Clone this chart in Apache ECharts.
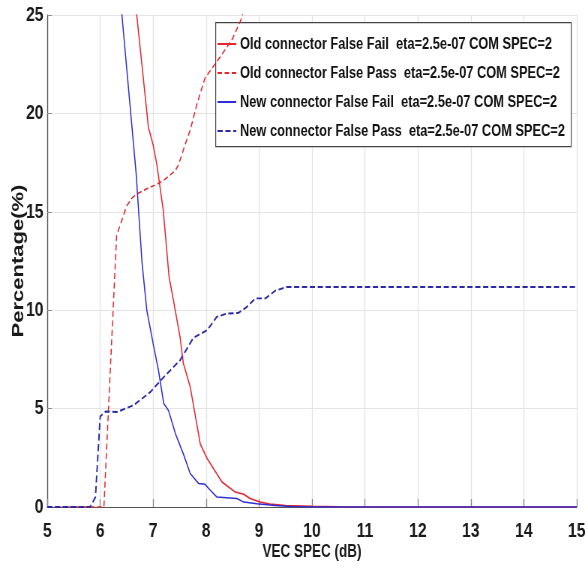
<!DOCTYPE html>
<html>
<head>
<meta charset="utf-8">
<script src="https://cdn.jsdelivr.net/npm/echarts@6/dist/echarts.min.js"></script>
<style>
  html, body { margin: 0; padding: 0; background: #fff; overflow: hidden; }
  /* The figure is laid out on a wider canvas and squeezed horizontally,
     giving the tall, narrow lettering of the exported plot. */
  #chart {
    width: 784px;
    height: 576px;
    transform: scaleX(0.75);
    transform-origin: 0 0;
  }
</style>
</head>
<body>
<div id="chart"></div>
<script>
// Axis ranges and ticks
const xTicks = [5, 6, 7, 8, 9, 10, 11, 12, 13, 14, 15];
const yTicks = [0, 5, 10, 15, 20, 25];

// Series names (legend)
const seriesNames = [
  'Old connector False Fail  eta=2.5e-07 COM SPEC=2',
  'Old connector False Pass  eta=2.5e-07 COM SPEC=2',
  'New connector False Fail  eta=2.5e-07 COM SPEC=2',
  'New connector False Pass  eta=2.5e-07 COM SPEC=2'
];

// Old connector, false fail (%)
const oldFailX = [6.3, 6.69, 6.91, 7.0, 7.07, 7.19, 7.30, 7.39, 7.51, 7.57, 7.70, 7.89, 8.02, 8.30, 8.55, 8.71, 8.83, 9.02, 9.2, 9.5, 10.0, 10.5, 11.0, 15];
const oldFailY = [35, 25, 19.3, 18.4, 17.4, 15.1, 11.7, 10.4, 8.6, 7.3, 6.1, 3.2, 2.46, 1.27, 0.76, 0.65, 0.43, 0.25, 0.15, 0.08, 0.04, 0.01, 0, 0];

// Old connector, false pass (%)
const oldPassX = [5, 6.07, 6.2, 6.31, 6.4, 6.5, 6.6, 6.69, 6.9, 7.07, 7.2, 7.42, 7.48, 7.64, 7.7, 7.83, 7.98, 8.14, 8.3, 8.5, 8.65, 8.8, 9.0, 15];
const oldPassY = [0, 0, 7.5, 13.8, 14.5, 15.3, 15.7, 15.9, 16.2, 16.4, 16.6, 17.1, 17.4, 18.7, 19.15, 20.5, 21.8, 22.4, 23.0, 23.8, 24.7, 26, 27, 28];

// New connector, false fail (%)
const newFailX = [6.2, 6.41, 6.68, 6.79, 6.88, 7.0, 7.1, 7.2, 7.29, 7.42, 7.57, 7.7, 7.86, 7.98, 8.08, 8.2, 8.58, 8.71, 8.96, 9.3, 9.6, 10.0, 15];
const newFailY = [31.5, 25, 16.9, 12.4, 10.0, 8.3, 6.95, 5.26, 4.9, 3.73, 2.7, 1.7, 1.19, 1.15, 0.85, 0.51, 0.43, 0.25, 0.17, 0.08, 0.02, 0, 0];

// New connector, false pass (%)
const newPassX = [5, 5.81, 5.91, 6.0, 6.1, 6.32, 6.63, 6.95, 7.2, 7.51, 7.76, 8.02, 8.2, 8.39, 8.61, 8.77, 8.93, 9.12, 9.31, 9.53, 15];
const newPassY = [0, 0, 0.5, 4.6, 4.85, 4.83, 5.17, 5.85, 6.6, 7.46, 8.6, 8.98, 9.66, 9.83, 9.86, 10.17, 10.6, 10.6, 11.0, 11.18, 11.18];

const zip = (xs, ys) => xs.map((x, i) => [x, ys[i]]);

const RED = '#e2262d';
const BLUE = '#2e2ed4';
const NAVY = '#2a2aa8';
const FONT = '"Liberation Sans", Arial, Helvetica, sans-serif';

function lineSeries(name, data, color, type, width) {
  return {
    name: name,
    type: 'line',
    data: data,
    symbol: 'none',
    clip: true,
    animation: false,
    lineStyle: { color: color, width: width, type: type },
    itemStyle: { color: color }
  };
}

const chart = echarts.init(document.getElementById('chart'), null, { renderer: 'canvas' });
chart.setOption({
  animation: false,
  backgroundColor: '#ffffff',
  grid: { left: 63, top: 15, right: 15, bottom: 69, containLabel: false, outerBoundsMode: 'none' },
  // white framed box behind the legend entries
  graphic: [{
    type: 'rect',
    left: 287,
    top: 22,
    z: 3,
    silent: true,
    shape: { width: 474, height: 124 },
    style: { fill: '#ffffff', stroke: '#444444', lineWidth: 1.2 }
  }],
  xAxis: {
    type: 'value',
    min: xTicks[0],
    max: xTicks[xTicks.length - 1],
    interval: 1,
    name: 'VEC SPEC (dB)',
    nameLocation: 'middle',
    nameGap: 36,
    nameMoveOverlap: false,
    nameTextStyle: { fontFamily: FONT, fontSize: 18, fontWeight: 'bold', color: '#1a1a1a' },
    axisLine: { show: true, onZero: false, lineStyle: { color: '#555', width: 1 } },
    axisTick: { show: true, inside: true, length: 8, lineStyle: { color: '#8a8a8a', width: 1.33 } },
    axisLabel: { fontFamily: FONT, fontSize: 21, fontWeight: 'bold', color: '#1a1a1a', margin: 14 },
    splitLine: { show: true, lineStyle: { color: '#e4e4e4', width: 1.33 } }
  },
  yAxis: {
    type: 'value',
    min: yTicks[0],
    max: yTicks[yTicks.length - 1],
    interval: 5,
    name: 'Percentage(%)',
    nameLocation: 'middle',
    nameGap: 27,
    nameRotate: 90,
    nameMoveOverlap: false,
    nameTextStyle: { fontFamily: FONT, fontSize: 22, fontWeight: 'bold', color: '#1a1a1a' },
    axisLine: { show: true, lineStyle: { color: '#555', width: 1.33 } },
    axisTick: { show: true, inside: true, length: 6, lineStyle: { color: '#8a8a8a', width: 1 } },
    axisLabel: { fontFamily: FONT, fontSize: 21, fontWeight: 'bold', color: '#1a1a1a', margin: 5 },
    splitLine: { show: true, lineStyle: { color: '#e4e4e4', width: 1 } }
  },
  legend: {
    orient: 'vertical',
    left: 287,
    top: 22,
    z: 4,
    data: seriesNames,
    backgroundColor: 'transparent',
    borderWidth: 0,
    padding: [12, 4, 4, 2],
    itemGap: 9,
    itemWidth: 25,
    itemHeight: 12,
    itemStyle: { opacity: 0 },
    selectedMode: false,
    textStyle: { fontFamily: FONT, fontSize: 17.1, fontWeight: 'bold', lineHeight: 20, color: '#111' }
  },
  series: [
    lineSeries(seriesNames[0], zip(oldFailX, oldFailY), RED, 'solid', 1.5),
    lineSeries(seriesNames[1], zip(oldPassX, oldPassY), RED, [6, 3.5], 1.5),
    lineSeries(seriesNames[2], zip(newFailX, newFailY), BLUE, 'solid', 1.5),
    lineSeries(seriesNames[3], zip(newPassX, newPassY), NAVY, [7, 3.5], 1.9)
  ]
});
</script>
</body>
</html>
